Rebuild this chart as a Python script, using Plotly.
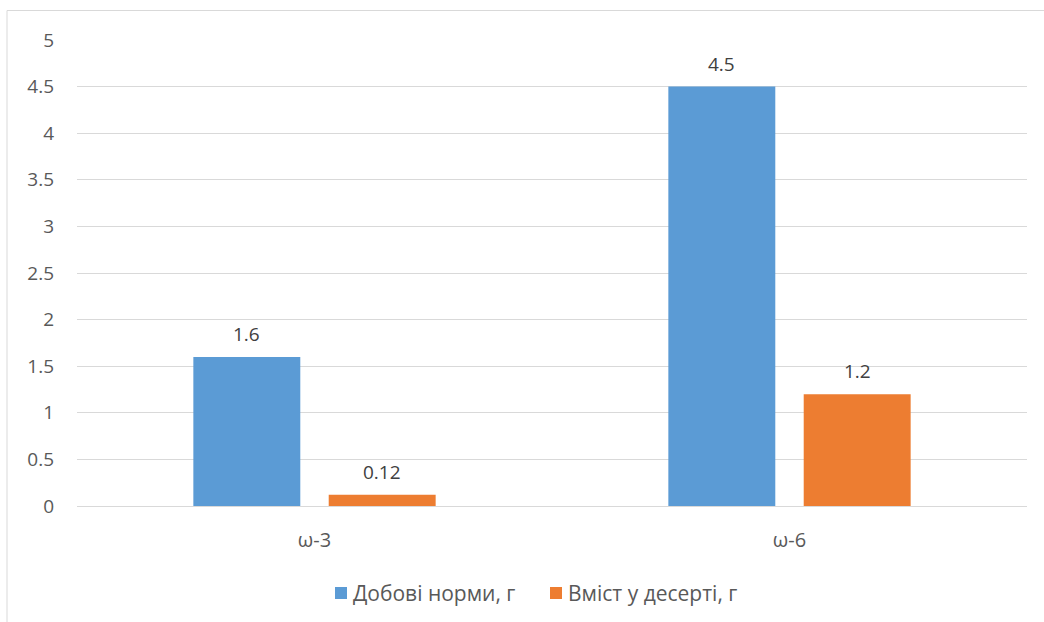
import plotly.graph_objects as go

categories = ["ω-3", "ω-6"]
series_names = ["Добові норми, г", "Вміст у десерті, г"]
daily_norm = [1.6, 4.5]
dessert_content = [0.12, 1.2]
colors = ["#5B9BD5", "#ED7D31"]
y_ticks = [0, 0.5, 1, 1.5, 2, 2.5, 3, 3.5, 4, 4.5, 5]

W, H = 1044, 622
ml, mr, mt, mb = 77, 17, 40, 116
pw, ph = W - ml - mr, H - mt - mb
FONT = "Open Sans"
TXT = "#595959"
bargap, bargroupgap = 0.43, 0.21

fig = go.Figure()
series = [daily_norm, dessert_content]
for name, vals, c in zip(series_names, series, colors):
    fig.add_trace(go.Bar(
        x=categories, y=vals, name=name, marker=dict(color=c, line=dict(width=0)),
        showlegend=False,
    ))

# data labels positioned at bar centres (grouped offsets derived from bar gap)
n = len(series)
slot = (1 - bargap) / n
for si, vals in enumerate(series):
    off = -(1 - bargap) / 2 + slot * (si + 0.5)
    for ci, v in enumerate(vals):
        fig.add_annotation(x=ci + off, y=v, xref="x", yref="y", text=("%g" % v),
                           showarrow=False, yanchor="middle", yshift=23,
                           font=dict(family=FONT, size=19, color="#404040"))

# legend: coloured squares + text
legend_x_px = [335, 550]
for name, c, lx in zip(series_names, colors, legend_x_px):
    fig.add_shape(type="rect", xref="paper", yref="paper",
                  x0=(lx - ml) / pw, x1=(lx + 12 - ml) / pw,
                  y0=(mt + ph - 599) / ph, y1=(mt + ph - 587) / ph,
                  fillcolor=c, line=dict(width=0))
    fig.add_annotation(xref="paper", yref="paper", x=(lx + 16 - ml) / pw, y=(mt + ph - 593) / ph,
                       xanchor="left", yanchor="middle", showarrow=False,
                       text=name, font=dict(family=FONT, size=21, color=TXT))

fig.add_shape(type="rect", xref="paper", yref="paper",
              x0=(7 - ml) / pw, x1=(W + 10 - ml) / pw,
              y0=(mt + ph - (H + 10)) / ph, y1=(mt + ph - 10.5) / ph,
              line=dict(color="#D9D9D9", width=1), fillcolor="rgba(0,0,0,0)", layer="below")

fig.update_layout(
    width=W, height=H,
    margin=dict(l=ml, r=mr, t=mt, b=mb),
    paper_bgcolor="white", plot_bgcolor="white",
    barmode="group", bargap=bargap, bargroupgap=bargroupgap,
    font=dict(family=FONT, size=19, color=TXT),
    showlegend=False,
    xaxis=dict(showgrid=False, showline=False, ticks="", tickfont=dict(size=20, color=TXT),
               ticklabelstandoff=20, range=[-0.5, 1.5]),
    yaxis=dict(range=[0, 5], tickvals=y_ticks, ticktext=[("%g" % v) for v in y_ticks],
               showgrid=True, gridcolor="#D9D9D9", gridwidth=1,
               zeroline=True, zerolinecolor="#D9D9D9", zerolinewidth=1,
               showline=False, ticks="", tickfont=dict(size=19, color=TXT),
               ticklabelstandoff=22),
)
fig.write_html("out.html")
